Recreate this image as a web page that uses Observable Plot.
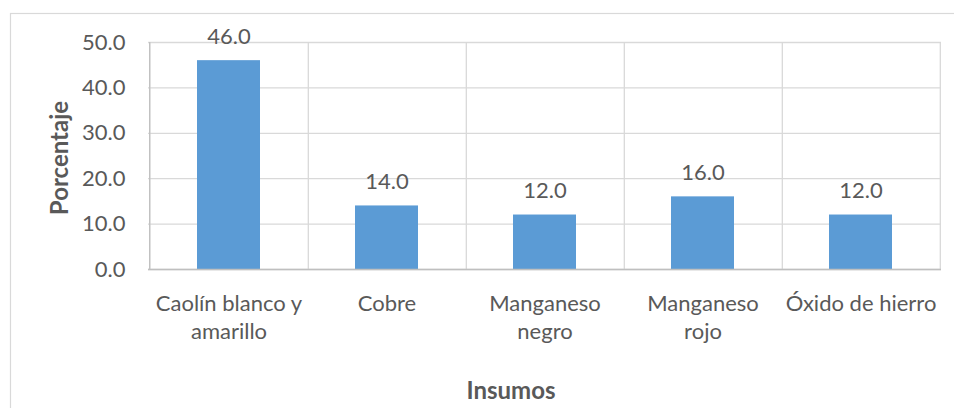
<!DOCTYPE html>
<html>
<head>
<meta charset="utf-8">
<script src="https://cdn.jsdelivr.net/npm/d3@7"></script>
<script src="https://cdn.jsdelivr.net/npm/@observablehq/plot@0.6"></script>
<style>
  html, body { margin: 0; padding: 0; background: #fff; }
  #chart { position: relative; width: 954px; height: 408px; overflow: hidden; }
</style>
</head>
<body>
<div id="chart"></div>
<script>
const categories = ["Caolín blanco y\namarillo", "Cobre", "Manganeso\nnegro", "Manganeso\nrojo", "Óxido de hierro"];
const values = [46.0, 14.0, 12.0, 16.0, 12.0];
const yTicks = [0, 10, 20, 30, 40, 50];
const xTitle = "Insumos";
const yTitle = "Porcentaje";

const data = categories.map((c, i) => ({category: c, value: values[i]}));
const font = "Lato, 'Open Sans', sans-serif";
const textColor = "#595959";
const fs = 22;

const plot = Plot.plot({
  width: 954,
  height: 408,
  marginLeft: 148,
  marginRight: 13,
  marginTop: 42,
  marginBottom: 139,
  style: {fontFamily: font, fontSize: fs + "px", color: textColor, background: "#fff"},
  x: {domain: categories, paddingInner: 0.6, paddingOuter: 0.3, align: 0.5},
  y: {domain: [0, 50]},
  marks: [
    Plot.gridY(yTicks, {stroke: "#D9D9D9", strokeOpacity: 1, strokeWidth: 1.3}),
    Plot.ruleX([categories[0]], {x: d => d, dx: -79.3, y1: 0, y2: 50, stroke: "#D9D9D9", strokeWidth: 1.3}),
    Plot.ruleX(categories, {x: d => d, dx: 79.3, y1: 0, y2: 50, stroke: "#D9D9D9", strokeWidth: 1.3}),
    Plot.barY(data, {x: "category", y: "value", fill: "#5B9BD5"}),
    Plot.ruleY([0], {stroke: "#BFBFBF", strokeWidth: 1.5}),
    Plot.ruleX([categories[0]], {x: d => d, dx: -79.3, y1: 0, y2: 50, stroke: "#BFBFBF", strokeWidth: 1.3}),
    Plot.text(data, {x: "category", y: "value", text: d => d.value.toFixed(1), dy: -17, lineAnchor: "bottom", fill: textColor, fontSize: fs}),
    Plot.axisY(yTicks, {tickSize: 0, tickPadding: 23, tickFormat: d => d.toFixed(1), label: null, fontSize: fs, fill: textColor}),
    Plot.axisX({tickSize: 0, tickPadding: 22, label: null, lineHeight: 1.27, fontSize: fs, fill: textColor}),
    Plot.text([xTitle], {frameAnchor: "bottom", textAnchor: "middle", dx: -34, dy: 129, lineAnchor: "bottom", fontWeight: "bold", fontSize: 24, fill: textColor}),
    Plot.text([yTitle], {frameAnchor: "left", textAnchor: "middle", lineAnchor: "middle", dx: -88, dy: 2, rotate: -90, fontWeight: "bold", fontSize: 24, fill: textColor})
  ]
});

d3.select(plot).append("rect")
  .attr("x", 10.5).attr("y", 13.5)
  .attr("width", 960).attr("height", 420)
  .attr("fill", "none").attr("stroke", "#D9D9D9").attr("stroke-width", 1.2);

document.getElementById("chart").appendChild(plot);
</script>
</body>
</html>
